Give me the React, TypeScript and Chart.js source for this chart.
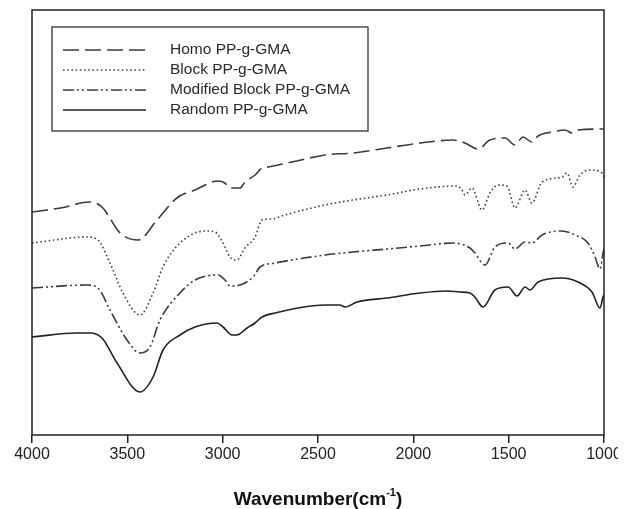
import React, { useEffect, useRef } from "react";
import { Chart, registerables } from "chart.js";

Chart.register(...registerables);

const FONT = '"Liberation Sans", Arial, Helvetica, sans-serif';

// Wavenumber ticks (cm-1)
const xTicks = [4000, 3500, 3000, 2500, 2000, 1500, 1000];

// Series: wavenumber (cm-1) and relative transmittance (arbitrary units, offset traces)
const homoWn = [4000, 3850, 3696, 3633, 3538, 3444, 3344, 3240, 3145, 3024, 2988, 2962, 2909, 2883, 2830, 2794, 2762, 2636, 2463, 2316, 2138, 1965, 1792, 1729, 1661, 1598, 1519, 1467, 1425, 1378, 1346, 1273, 1205, 1168, 1136, 1000];
const homoT = [223, 227, 233, 228, 202, 195, 215, 237, 245, 254, 252, 247, 247, 253, 260, 267, 268, 273, 280, 282, 287, 292, 295, 292, 286, 295, 297, 290, 298, 293, 299, 303, 305, 302, 305, 306];

const blockWn = [4000, 3712, 3654, 3591, 3523, 3434, 3365, 3313, 3224, 3093, 3040, 2998, 2962, 2925, 2883, 2830, 2794, 2741, 2673, 2463, 2316, 2138, 1965, 1771, 1745, 1729, 1692, 1640, 1598, 1556, 1509, 1467, 1414, 1378, 1325, 1220, 1194, 1163, 1126, 1073, 1010, 1000];
const blockT = [192, 198, 195, 172, 142, 120, 142, 168, 192, 204, 203, 192, 178, 175, 187, 198, 215, 216, 220, 230, 235, 240, 246, 249, 245, 240, 247, 225, 242, 250, 249, 227, 245, 232, 253, 258, 262, 248, 260, 265, 262, 258];

const modWn = [4000, 3712, 3654, 3591, 3502, 3434, 3381, 3329, 3224, 3145, 3024, 2988, 2962, 2909, 2841, 2804, 2725, 2463, 2316, 2138, 1965, 1792, 1703, 1677, 1624, 1572, 1503, 1467, 1414, 1378, 1325, 1220, 1152, 1084, 1047, 1021, 1005, 1000];
const modT = [147, 150, 147, 125, 95, 82, 88, 115, 142, 155, 160, 155, 149, 150, 158, 168, 172, 180, 183, 186, 189, 192, 187, 182, 170, 188, 192, 186, 193, 192, 200, 204, 200, 192, 178, 166, 182, 186];

const randWn = [4000, 3764, 3696, 3633, 3554, 3434, 3365, 3313, 3224, 3145, 3030, 2998, 2951, 2925, 2872, 2830, 2794, 2725, 2463, 2385, 2358, 2295, 2138, 1965, 1823, 1755, 1703, 1677, 1635, 1572, 1503, 1456, 1414, 1388, 1346, 1220, 1136, 1063, 1021, 1005, 1000];
const randT = [98, 102, 102, 97, 72, 43, 58, 85, 100, 108, 112, 108, 100, 100, 107, 112, 118, 122, 130, 130, 128, 133, 137, 142, 144, 143, 142, 138, 128, 145, 148, 139, 148, 145, 153, 157, 153, 143, 127, 138, 140];

const seriesLabels = ["Homo PP-g-GMA", "Block PP-g-GMA", "Modified Block PP-g-GMA", "Random PP-g-GMA"];

const toPoints = (wn: number[], t: number[]) => wn.map((w, i) => ({ x: w, y: t[i] }));

const overlayPlugin = {
  id: "overlay",
  afterDraw(chart: any) {
    const { ctx, chartArea: a } = chart;
    ctx.save();
    // frame
    ctx.setLineDash([]);
    ctx.strokeStyle = "#222";
    ctx.lineWidth = 1.5;
    ctx.strokeRect(a.left, a.top, a.right - a.left, a.bottom - a.top);

    // legend box
    const lx = a.left + 20;
    const ly = a.top + 17;
    const lw = 316;
    const lh = 104;
    ctx.strokeStyle = "#333";
    ctx.lineWidth = 1.3;
    ctx.strokeRect(lx, ly, lw, lh);
    chart.data.datasets.forEach((ds: any, i: number) => {
      const y = ly + 23 + i * 20;
      ctx.beginPath();
      ctx.setLineDash(ds.borderDash || []);
      ctx.strokeStyle = ds.borderColor;
      ctx.lineWidth = ds.borderWidth;
      ctx.moveTo(lx + 11, y);
      ctx.lineTo(lx + 94, y);
      ctx.stroke();
      ctx.setLineDash([]);
      ctx.fillStyle = "#2a2a2a";
      ctx.font = `15.5px ${FONT}`;
      ctx.textBaseline = "middle";
      ctx.textAlign = "left";
      ctx.fillText(ds.label, lx + 118, y);
    });

    // x-axis title with superscript
    const main = "Wavenumber(cm";
    const sup = "-1";
    const end = ")";
    ctx.fillStyle = "#111";
    ctx.textBaseline = "alphabetic";
    ctx.font = `bold 19px ${FONT}`;
    const w1 = ctx.measureText(main).width;
    const w3 = ctx.measureText(end).width;
    ctx.font = `bold 11px ${FONT}`;
    const w2 = ctx.measureText(sup).width;
    const total = w1 + w2 + w3;
    const cx = (a.left + a.right) / 2;
    const baseY = 505;
    let x = cx - total / 2;
    ctx.font = `bold 19px ${FONT}`;
    ctx.fillText(main, x, baseY);
    x += w1;
    ctx.font = `bold 11px ${FONT}`;
    ctx.fillText(sup, x, baseY - 9);
    x += w2;
    ctx.font = `bold 19px ${FONT}`;
    ctx.fillText(end, x, baseY);
    ctx.restore();
  },
};

export default function App() {
  const ref = useRef<HTMLCanvasElement | null>(null);

  useEffect(() => {
    if (!ref.current) return;
    const chart = new Chart(ref.current, {
      type: "line",
      data: {
        datasets: [
          {
            label: seriesLabels[0],
            data: toPoints(homoWn, homoT),
            borderColor: "#3c3c3c",
            borderWidth: 1.6,
            borderDash: [16, 6],
          },
          {
            label: seriesLabels[1],
            data: toPoints(blockWn, blockT),
            borderColor: "#444",
            borderWidth: 1.6,
            borderDash: [1.6, 2.6],
          },
          {
            label: seriesLabels[2],
            data: toPoints(modWn, modT),
            borderColor: "#3c3c3c",
            borderWidth: 1.6,
            borderDash: [11, 3, 2, 3, 2, 3],
          },
          {
            label: seriesLabels[3],
            data: toPoints(randWn, randT),
            borderColor: "#222",
            borderWidth: 1.6,
          },
        ],
      },
      options: {
        animation: false,
        responsive: false,
        events: [],
        elements: {
          point: { radius: 0 },
          line: { cubicInterpolationMode: "monotone", fill: false },
        },
        layout: { padding: { left: 32, top: 10, right: 27, bottom: 0 } },
        plugins: {
          legend: { display: false },
          tooltip: { enabled: false },
        },
        scales: {
          x: {
            type: "linear",
            reverse: true,
            min: 1000,
            max: 4000,
            afterBuildTicks: (scale: any) => {
              scale.ticks = xTicks.map((v) => ({ value: v }));
            },
            afterFit: (scale: any) => {
              scale.height = 74;
            },
            ticks: {
              color: "#222",
              font: { family: FONT, size: 16 },
              padding: 2,
              maxRotation: 0,
              autoSkip: false,
              callback: (v: any) => String(v),
            },
            grid: {
              display: true,
              drawOnChartArea: false,
              drawTicks: true,
              tickLength: 8,
              color: "#222",
              lineWidth: 1.5,
            },
            border: { display: false },
          },
          y: {
            min: 0,
            max: 425,
            afterFit: (scale: any) => {
              scale.width = 0;
            },
            ticks: { display: false },
            grid: { display: false, drawTicks: false },
            border: { display: false },
          },
        },
      },
      plugins: [overlayPlugin],
    } as any);
    return () => chart.destroy();
  }, []);

  return (
    <div style={{ position: "absolute", left: 0, top: 0, width: 618, height: 509, overflow: "hidden", background: "#fff" }}>
      <canvas ref={ref} width={631} height={509} style={{ width: 631, height: 509, display: "block" }} />
    </div>
  );
}
